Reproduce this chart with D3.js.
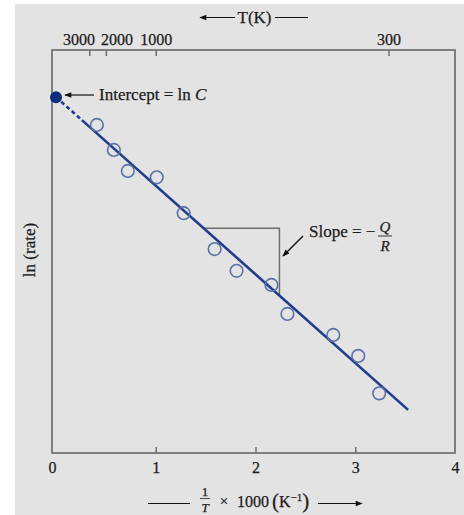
<!DOCTYPE html>
<html>
<head>
<meta charset="utf-8">
<script src="https://cdn.jsdelivr.net/npm/d3@7"></script>
<style>
  html, body { margin: 0; padding: 0; background: #ffffff; }
  svg { display: block; }
  text { font-family: "Liberation Serif", "DejaVu Serif", serif; fill: #1c1c1c; stroke: #1c1c1c; stroke-width: 0.25px; }
</style>
</head>
<body>
<svg id="chart" width="464" height="515"></svg>
<script>
// ---- data ----
const xDomain = [0, 4];
const yDomain = [0, 10];
const bottomTicks = [0, 1, 2, 3, 4];
const topTicksT = [3000, 2000, 1000, 300];
const invT = [0.41, 0.58, 0.72, 1.01, 1.28, 1.59, 1.81, 2.16, 2.32, 2.78, 3.03, 3.24];
const lnRate = [8.14, 7.52, 7.00, 6.84, 5.95, 5.06, 4.52, 4.17, 3.45, 2.93, 2.41, 1.48];
const interceptX = [0];
const interceptY = [8.83];
const fitDashedX = [0, 0.26];
const fitDashedY = [8.83, 8.26];
const fitSolidX = [0.26, 3.53];
const fitSolidY = [8.26, 1.07];
const triX = [1.48, 2.24, 2.24];
const triY = [5.58, 5.58, 3.92];

// ---- layout ----
const svg = d3.select("#chart");
const L = 56, R = 455, T = 50, B = 453;
const frameLeft = 52;
const x = d3.scaleLinear().domain(xDomain).range([L, R]);
const y = d3.scaleLinear().domain(yDomain).range([B, T]);

svg.append("rect").attr("x", 15).attr("y", 4).attr("width", 449).attr("height", 511).attr("fill", "#e3e3e3");

const defs = svg.append("defs");
defs.append("marker").attr("id", "ah").attr("viewBox", "0 0 10 10")
  .attr("refX", 9).attr("refY", 5).attr("markerWidth", 9).attr("markerHeight", 7)
  .attr("markerUnits", "userSpaceOnUse").attr("orient", "auto")
  .append("path").attr("d", "M0,1 L10,5 L0,9 Z").attr("fill", "#111");

// frame
svg.append("rect").attr("x", frameLeft).attr("y", T).attr("width", R - frameLeft).attr("height", B - T)
  .attr("fill", "none").attr("stroke", "#6e6e6e").attr("stroke-width", 1.7);

// bottom axis
const gB = svg.append("g").attr("transform", `translate(0,${B})`)
  .call(d3.axisBottom(x).tickValues(bottomTicks).tickFormat(d3.format("d"))
    .tickSizeInner(-6).tickSizeOuter(0).tickPadding(9));
gB.select(".domain").remove();
gB.selectAll("line").attr("stroke", "#6e6e6e").attr("stroke-width", 1.5);
gB.selectAll(".tick").filter(d => d === 0 || d === 4).select("line").remove();
gB.selectAll(".tick").filter(d => d === 0).select("text").attr("x", frameLeft - L);
gB.selectAll("text").attr("font-size", 16).attr("font-family", "Liberation Serif").attr("fill", "#1c1c1c");

// top axis (temperature)
const gT = svg.append("g").attr("transform", `translate(0,${T})`)
  .call(d3.axisTop(x).tickValues(topTicksT.map(t => 1000 / t)).tickFormat((d, i) => topTicksT[i])
    .tickSizeInner(-6).tickSizeOuter(0).tickPadding(5));
gT.select(".domain").remove();
gT.selectAll("line").attr("stroke", "#6e6e6e").attr("stroke-width", 1.5);
const topLabels = gT.selectAll("text").attr("font-size", 16).attr("font-family", "Liberation Serif").attr("fill", "#1c1c1c");
// spread crowded labels apart symmetrically
const tl = topLabels.nodes();
const base = tl.map(n => n.parentNode.transform.baseVal.consolidate().matrix.e);
const w = tl.map(n => n.getComputedTextLength());
const pos = base.slice();
const gap = 6;
for (let it = 0; it < 50; it++) {
  for (let i = 0; i < pos.length - 1; i++) {
    const need = (w[i] + w[i + 1]) / 2 + gap;
    const d = pos[i + 1] - pos[i];
    if (d < need) {
      const s = (need - d) / 2;
      pos[i] -= s; pos[i + 1] += s;
    }
  }
}
tl.forEach((n, i) => n.setAttribute("x", pos[i] - base[i]));

// top title  ←— T(K) ——
svg.append("line").attr("x1", 235).attr("y1", 17.5).attr("x2", 200).attr("y2", 17.5)
  .attr("stroke", "#111").attr("stroke-width", 1.2).attr("marker-end", "url(#ah)");
svg.append("text").attr("x", 254.5).attr("y", 22.5).attr("text-anchor", "middle").attr("font-size", 17).text("T(K)");
svg.append("line").attr("x1", 275).attr("y1", 17.5).attr("x2", 308).attr("y2", 17.5)
  .attr("stroke", "#111").attr("stroke-width", 1.2);

// y label
svg.append("text").attr("transform", "translate(35,250) rotate(-90)").attr("text-anchor", "middle")
  .attr("font-size", 17).text("ln (rate)");

// bottom title
svg.append("line").attr("x1", 148).attr("y1", 503.5).attr("x2", 190).attr("y2", 503.5)
  .attr("stroke", "#111").attr("stroke-width", 1.2);
svg.append("text").attr("x", 205).attr("y", 495.5).attr("text-anchor", "middle").attr("font-size", 13).text("1");
svg.append("line").attr("x1", 200).attr("y1", 498.5).attr("x2", 210).attr("y2", 498.5)
  .attr("stroke", "#222").attr("stroke-width", 0.8);
svg.append("text").attr("x", 205).attr("y", 512).attr("text-anchor", "middle").attr("font-size", 13)
  .attr("font-style", "italic").text("T");
svg.append("text").attr("x", 224).attr("y", 506).attr("text-anchor", "middle").attr("font-size", 15).text("×");
const bt = svg.append("text").attr("x", 237).attr("y", 507).attr("font-size", 16);
bt.append("tspan").text("1000");
bt.append("tspan").attr("dx", 3).attr("font-size", 21).attr("dy", 1).text("(");
bt.append("tspan").attr("font-size", 16).attr("dy", -1).text("K");
bt.append("tspan").attr("font-size", 11).attr("dy", -6).text("−1");
bt.append("tspan").attr("font-size", 21).attr("dy", 7).text(")");
svg.append("line").attr("x1", 318).attr("y1", 503.5).attr("x2", 362).attr("y2", 503.5)
  .attr("stroke", "#111").attr("stroke-width", 1.2).attr("marker-end", "url(#ah)");

// slope triangle
svg.append("path")
  .attr("d", d3.line()(triX.map((v, i) => [x(v), y(triY[i])])))
  .attr("fill", "none").attr("stroke", "#6e6e6e").attr("stroke-width", 1.5);

// fitted line
const lineGen = d3.line();
svg.append("path").attr("d", lineGen(fitDashedX.map((v, i) => [x(v), y(fitDashedY[i])])))
  .attr("fill", "none").attr("stroke", "#1f3d8c").attr("stroke-width", 2.6).attr("stroke-dasharray", "4,3");
svg.append("path").attr("d", lineGen(fitSolidX.map((v, i) => [x(v), y(fitSolidY[i])])))
  .attr("fill", "none").attr("stroke", "#1f3d8c").attr("stroke-width", 2.6);

// data points
svg.append("g").selectAll("circle").data(invT).join("circle")
  .attr("cx", d => x(d)).attr("cy", (d, i) => y(lnRate[i])).attr("r", 6.3)
  .attr("fill", "none").attr("stroke", "#5b70a8").attr("stroke-width", 1.6);

// intercept dot
svg.append("g").selectAll("circle").data(interceptX).join("circle")
  .attr("cx", d => x(d)).attr("cy", (d, i) => y(interceptY[i])).attr("r", 6)
  .attr("fill", "#0c2a7e");

// intercept annotation
svg.append("line").attr("x1", 94).attr("y1", 95).attr("x2", 65).attr("y2", 95)
  .attr("stroke", "#111").attr("stroke-width", 1.2).attr("marker-end", "url(#ah)");
const it = svg.append("text").attr("x", 99).attr("y", 99.5).attr("font-size", 17);
it.append("tspan").text("Intercept = ln ");
it.append("tspan").attr("font-style", "italic").text("C");

// slope annotation
svg.append("line").attr("x1", 303).attr("y1", 236).attr("x2", 283).attr("y2", 256)
  .attr("stroke", "#111").attr("stroke-width", 1.4).attr("marker-end", "url(#ah)");
svg.append("text").attr("x", 309).attr("y", 237).attr("font-size", 17).text("Slope = −");
svg.append("text").attr("x", 385).attr("y", 232).attr("text-anchor", "middle").attr("font-size", 15)
  .attr("font-style", "italic").text("Q");
svg.append("line").attr("x1", 378).attr("y1", 236).attr("x2", 392).attr("y2", 236)
  .attr("stroke", "#222").attr("stroke-width", 0.9);
svg.append("text").attr("x", 385).attr("y", 250.5).attr("text-anchor", "middle").attr("font-size", 15)
  .attr("font-style", "italic").text("R");
</script>
</body>
</html>
